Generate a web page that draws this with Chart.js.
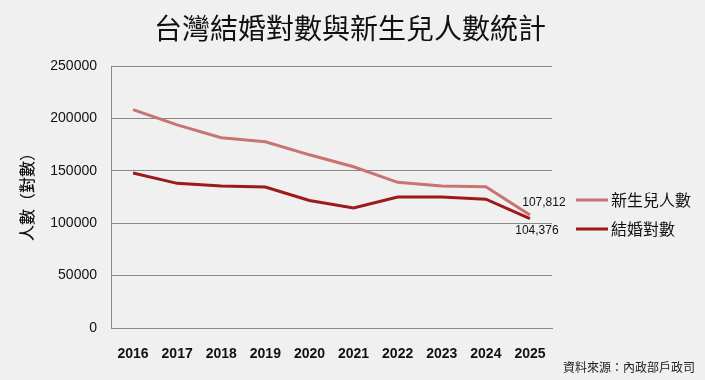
<!DOCTYPE html>
<html><head><meta charset="utf-8">
<script src="https://cdn.jsdelivr.net/npm/chart.js@4/dist/chart.umd.min.js"></script>
<style>html,body{margin:0;padding:0;background:#f0f0f0;}#wrap{width:705px;height:380px;}</style>
</head><body><div id="wrap"><canvas id="c" width="705" height="380"></canvas></div>
<script>
const years = ['2016','2017','2018','2019','2020','2021','2022','2023','2024','2025'];
const births = [208440,193844,181601,177767,165249,153820,138986,135571,134856,107812];
const marriages = [147861,138034,135403,134524,121702,114606,124997,125004,122874,104376];
const yTicks = [0,50000,100000,150000,200000,250000];
const FONT = '"Noto Sans CJK TC","Liberation Sans",Arial,sans-serif';

const deco = {
  id:'deco',
  beforeDraw(chart){
    const c=chart.ctx; c.save(); c.fillStyle='#f0f0f0'; c.fillRect(0,0,chart.width,chart.height); c.restore();
  },
  afterDraw(chart){
    const c=chart.ctx; c.save();
    c.fillStyle='#111'; c.textAlign='center'; c.textBaseline='middle';
    c.font='28px '+FONT;
    c.fillText('台灣結婚對數與新生兒人數統計',350,28);
    // y title
    c.save(); c.translate(27,193); c.rotate(-Math.PI/2);
    c.font='500 16px '+FONT; c.fillStyle='#111'; c.fillText('人數（對數）',0,0); c.restore();
    // legend
    const ds=chart.data.datasets; const ly=[200,229];
    ds.forEach((d,i)=>{
      c.strokeStyle=d.borderColor; c.lineWidth=3; c.beginPath(); c.moveTo(576,ly[i]); c.lineTo(608,ly[i]); c.stroke();
      c.fillStyle='#111'; c.textAlign='left'; c.font='16px '+FONT; c.fillText(d.label,611,ly[i]);
    });
    // data labels
    const xs=chart.scales.x, ys=chart.scales.y, n=years.length-1;
    c.font='12px "Liberation Sans",Arial,sans-serif'; c.fillStyle='#111'; c.textAlign='center';
    c.fillText(births[n].toLocaleString('en-US'), xs.getPixelForValue(n)+14, ys.getPixelForValue(births[n])-12);
    c.fillText(marriages[n].toLocaleString('en-US'), xs.getPixelForValue(n)+7, ys.getPixelForValue(marriages[n])+12);
    // source
    c.font='12px '+FONT; c.textAlign='right'; c.fillStyle='#222';
    c.fillText('資料來源：內政部戶政司',695,367);
    c.restore();
  }
};

new Chart(document.getElementById('c'),{
  type:'line',
  data:{labels:years,datasets:[
    {label:'新生兒人數',data:births,borderColor:'#c97373',borderWidth:3,pointRadius:0,tension:0,fill:false},
    {label:'結婚對數',data:marriages,borderColor:'#9c1a1a',borderWidth:3,pointRadius:0,tension:0,fill:false}
  ]},
  options:{
    responsive:false,animation:false,
    layout:{padding:{top:66,right:153,left:0,bottom:0}},
    plugins:{legend:{display:false},title:{display:false},tooltip:{enabled:false}},
    scales:{
      x:{offset:true,
        grid:{display:false,drawTicks:false},
        border:{display:true,color:'#888',width:1},
        ticks:{padding:18,color:'#111',font:{family:'"Liberation Sans",Arial,sans-serif',size:14,weight:'bold'},maxRotation:0},
        afterFit(s){s.height=52;}
      },
      y:{min:0,max:250000,
        afterBuildTicks(s){s.ticks=yTicks.map(v=>({value:v}));},
        grid:{color:'#888',lineWidth:1,drawTicks:false},
        border:{display:true,color:'#888',width:1},
        ticks:{padding:14,color:'#111',font:{family:'"Liberation Sans",Arial,sans-serif',size:14},callback:v=>String(v)},
        afterFit(s){s.width=111;}
      }
    }
  },
  plugins:[deco]
});
</script></body></html>
